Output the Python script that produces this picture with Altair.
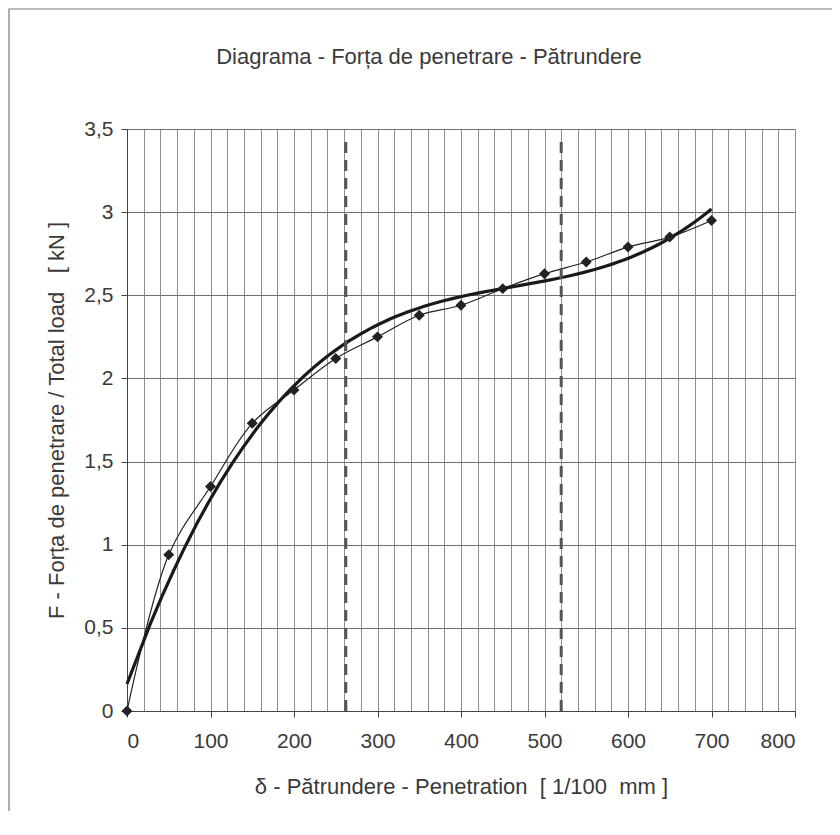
import altair as alt
import pandas as pd

# measured points (penetration in 1/100 mm, force in kN)
pen = [0, 50, 100, 150, 200, 250, 300, 350, 400, 450, 500, 550, 600, 650, 700]
force = [0.0, 0.94, 1.35, 1.73, 1.93, 2.12, 2.25, 2.38, 2.44, 2.54, 2.63, 2.70, 2.79, 2.85, 2.95]

# dashed reference lines
ref_x = [262, 520]
ref_top = [3.45, 3.45]

x_grid_values = list(range(0, 801, 20))
y_values = [0, 0.5, 1, 1.5, 2, 2.5, 3, 3.5]

NB = "\u00a0"
TITLE = "Diagrama - Forța de penetrare - Pătrundere"
X_TITLE = "δ - Pătrundere - Penetration" + NB + NB + "[ 1/100" + NB + NB + "mm ]"
Y_TITLE = "F - Forța de penetrare / Total load" + NB + NB + NB + "[ kN ]"

FONT = "Liberation Sans"
TXT = "#3a3a3a"

df = pd.DataFrame({"x": pen, "y": force})
ref = pd.DataFrame({"x": ref_x, "y0": [0, 0], "y1": ref_top})

xscale = alt.Scale(domain=[0, 800], nice=False)
yscale = alt.Scale(domain=[0, 3.5], nice=False)

xaxis = alt.Axis(
    values=x_grid_values,
    title=X_TITLE,
    labelExpr="datum.value % 100 === 0 ? datum.label : ''",
    labelOverlap=False,
    grid=True,
    gridColor="#8f8f8f",
    gridWidth=1,
    tickSize=6,
    tickColor="#444",
    tickOpacity={"condition": {"test": "datum.value % 100 === 0", "value": 1}, "value": 0},
    labelPadding=13,
    titlePadding=25,
    labelFont=FONT, labelFontSize=21, labelColor=TXT,
    titleFont=FONT, titleFontSize=22, titleColor=TXT, titleFontWeight="normal",
    domainColor="#444",
)
yaxis = alt.Axis(
    values=y_values,
    title=Y_TITLE,
    labelExpr="replace(format(datum.value, '~g'), '.', ',')",
    labelOverlap=False,
    grid=True,
    gridColor="#707070",
    gridWidth=1,
    tickSize=6,
    tickColor="#444",
    labelPadding=8,
    titlePadding=15,
    labelFont=FONT, labelFontSize=21, labelColor=TXT,
    titleFont=FONT, titleFontSize=22, titleColor=TXT, titleFontWeight="normal",
    domainColor="#444",
)

base = alt.Chart(df)

thin = base.mark_line(color="#222", strokeWidth=1.2, interpolate="catmull-rom").encode(
    x=alt.X("x:Q", scale=xscale, axis=xaxis),
    y=alt.Y("y:Q", scale=yscale, axis=yaxis),
)
pts = base.mark_point(shape="diamond", filled=True, color="#222", size=120, opacity=1).encode(
    x=alt.X("x:Q", scale=xscale, axis=xaxis),
    y=alt.Y("y:Q", scale=yscale, axis=yaxis),
)
trend = base.transform_regression(
    "x", "y", method="poly", order=3, extent=[0, 700]
).mark_line(color="#1a1a1a", strokeWidth=3.2).encode(
    x=alt.X("x:Q", scale=xscale, axis=xaxis),
    y=alt.Y("y:Q", scale=yscale, axis=yaxis),
)

dash = alt.Chart(ref).mark_rule(color="#555", strokeWidth=3, strokeDash=[11, 7]).encode(
    x=alt.X("x:Q", scale=xscale, axis=xaxis),
    y=alt.Y("y0:Q", scale=yscale, axis=yaxis),
    y2="y1:Q",
)

one = pd.DataFrame({"t": [TITLE]})
frame = alt.Chart(one).mark_rect(
    fill=None, stroke="#777", strokeWidth=1.2, clip=False
).encode(
    x=alt.value(-118), x2=alt.value(760), y=alt.value(-120), y2=alt.value(720)
)
title = alt.Chart(one).mark_text(
    font=FONT, fontSize=22, color=TXT, align="center", baseline="middle", clip=False
).encode(text="t:N", x=alt.value(302), y=alt.value(-72))

chart = alt.layer(thin, trend, pts, dash, frame, title).properties(
    width=668,
    height=582,
    autosize=alt.AutoSizeParams(type="none"),
    padding={"left": 119, "top": 121, "right": 37, "bottom": 100},
).configure_view(stroke="#555", strokeWidth=1.2).configure(background="white")

chart.save("out.html", embed_options={"renderer": "svg", "actions": False})
